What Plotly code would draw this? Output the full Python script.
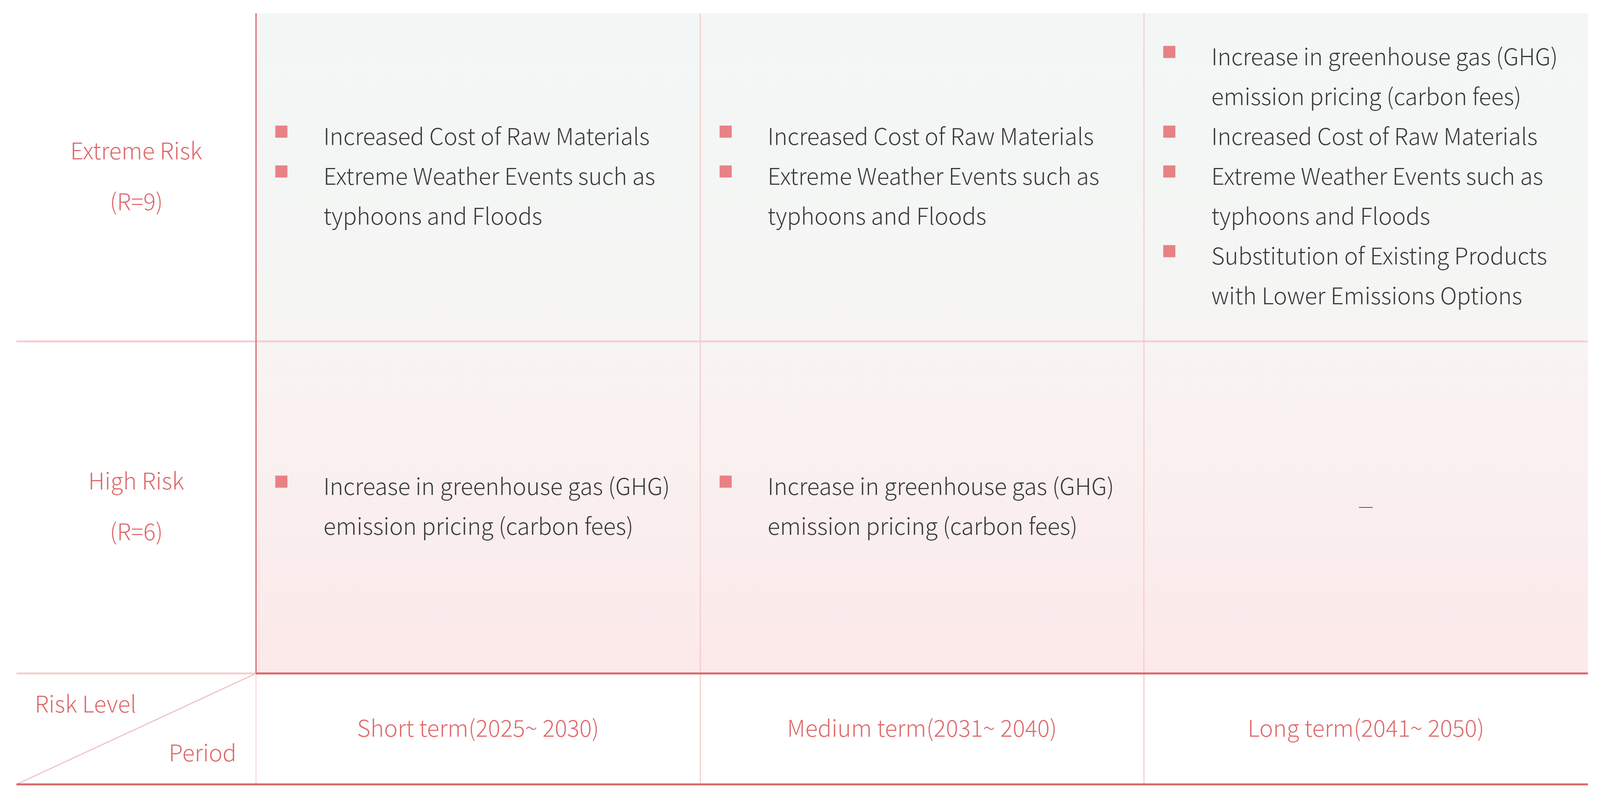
import plotly.graph_objects as go

# ---------------- data ----------------
periods = ["Short term(2025~ 2030)", "Medium term(2031~ 2040)", "Long term(2041~ 2050)"]
risk_levels = ["Extreme Risk", "High Risk"]
risk_scores = ["(R=9)", "(R=6)"]
corner_top = "Risk Level"
corner_bottom = "Period"

# each cell: list of bullet items, each item: list of wrapped lines
extreme_short = [["Increased Cost of Raw Materials"],
                 ["Extreme Weather Events such as", "typhoons and Floods"]]
extreme_medium = [["Increased Cost of Raw Materials"],
                  ["Extreme Weather Events such as", "typhoons and Floods"]]
extreme_long = [["Increase in greenhouse gas (GHG)", "emission pricing (carbon fees)"],
                ["Increased Cost of Raw Materials"],
                ["Extreme Weather Events such as", "typhoons and Floods"],
                ["Substitution of Existing Products", "with Lower Emissions Options"]]
high_short = [["Increase in greenhouse gas (GHG)", "emission pricing (carbon fees)"]]
high_medium = [["Increase in greenhouse gas (GHG)", "emission pricing (carbon fees)"]]
high_long_placeholder = "—"

cells = [
    [extreme_short, extreme_medium, extreme_long],
    [high_short, high_medium, None],
]

# ---------------- layout geometry (reference pixel units) ----------------
REF_W, REF_H = 5049, 2048
FIG_W, FIG_H = 4096, 2048          # browser viewport is capped at 4096 wide
X_LEFT, X_C1, X_C2, X_C3, X_RIGHT = 42, 798, 2200, 3600, 5001
Y_TOP, Y_R1, Y_R2, Y_BOT = 26, 866, 1716, 2000
col_starts = [X_C1, X_C2, X_C3]
col_ends = [X_C2, X_C3, X_RIGHT]
row_bounds = [(Y_TOP, Y_R1), (Y_R1, Y_R2)]

RED = "#d9666a"
LIGHT = "#f6cfcf"
LABEL = "#df6a6c"
TEXT = "#3b3b3b"
BULLET = "#e98184"
FONT = "Noto Sans CJK TC"
FS = 59
LINE_H = 102
DY = -10   # visual centre correction for annotations

fig = go.Figure()

# row backgrounds with vertical gradients
bg = [("#f2f7f5", "#f6f5f4"), ("#f8f4f3", "#fce9ea")]
for (y0, y1), (ca, cb) in zip(row_bounds, bg):
    fig.add_trace(go.Scatter(
        x=[X_C1, X_RIGHT, X_RIGHT, X_C1, X_C1], y=[y0, y0, y1, y1, y0],
        mode="lines", line=dict(width=0), fill="toself",
        fillgradient=dict(type="vertical", start=y0, stop=y1,
                          colorscale=[[0, ca], [1, cb]]),
        hoverinfo="skip", showlegend=False))

shapes = []
def line(x0, y0, x1, y1, color, w):
    shapes.append(dict(type="line", x0=x0, y0=y0, x1=x1, y1=y1,
                       line=dict(color=color, width=w), layer="above"))

# grid lines
line(X_C2, Y_TOP, X_C2, Y_BOT, LIGHT, 3)
line(X_C3, Y_TOP, X_C3, Y_BOT, LIGHT, 3)
line(X_C1, Y_R2, X_C1, Y_BOT, LIGHT, 2)
line(X_LEFT, Y_R1, X_RIGHT, Y_R1, LIGHT, 5)
line(X_LEFT, Y_R2, X_C1, Y_R2, LIGHT, 5)
line(X_LEFT, Y_BOT, X_C1, Y_R2, "#f2c2c2", 3)
line(X_C1, Y_TOP, X_C1, Y_R2, RED, 3)
line(X_C1, Y_R2, X_RIGHT, Y_R2, RED, 5)
line(X_LEFT, Y_BOT, X_RIGHT, Y_BOT, RED, 5)

annotations = []
def text(x, y, s, color, size=FS, xanchor="left"):
    annotations.append(dict(x=x, y=y + DY, xref="x", yref="y", text=s, showarrow=False,
                            xanchor=xanchor, yanchor="middle",
                            font=dict(family=FONT, size=size, color=color, weight=300)))

# row labels
label_x = (X_LEFT + X_C1) / 2
for (y0, y1), lab, sc in zip(row_bounds, risk_levels, risk_scores):
    yc = (y0 + y1) / 2
    text(label_x, yc - 62, lab, LABEL, xanchor="center")
    text(label_x, yc + 68, sc, LABEL, xanchor="center")

# header
yh = (Y_R2 + Y_BOT) / 2 + 4
for cs, ce, p in zip(col_starts, col_ends, periods):
    text((cs + ce) / 2, yh, p, LABEL, xanchor="center")
text(97, 1800, corner_top, LABEL)
text(738, 1925, corner_bottom, LABEL, xanchor="right")

# cell contents
bx, by = [], []
for r, (y0, y1) in enumerate(row_bounds):
    yc = (y0 + y1) / 2 + 3
    for c in range(3):
        items = cells[r][c]
        if items is None:
            text((col_starts[c] + col_ends[c]) / 2, yc, high_long_placeholder, "#555555",
                 size=44, xanchor="center")
            continue
        n = sum(len(it) for it in items)
        ystart = yc - (n - 1) * LINE_H / 2
        k = 0
        for it in items:
            bx.append(col_starts[c] + 80)
            by.append(ystart + k * LINE_H - 18)
            for ln in it:
                text(col_starts[c] + 210, ystart + k * LINE_H, ln, TEXT)
                k += 1

fig.add_trace(go.Scatter(x=bx, y=by, mode="markers",
                         marker=dict(symbol="square", size=31, color=BULLET, line=dict(width=0)),
                         hoverinfo="skip", showlegend=False))

fig.update_layout(
    width=FIG_W, height=FIG_H, margin=dict(l=0, r=0, t=0, b=0),
    paper_bgcolor="white", plot_bgcolor="white",
    xaxis=dict(range=[0, REF_W], visible=False, fixedrange=True),
    yaxis=dict(range=[REF_H, 0], visible=False, fixedrange=True),
    shapes=shapes, annotations=annotations, showlegend=False,
)

fig.write_html("out.html")
